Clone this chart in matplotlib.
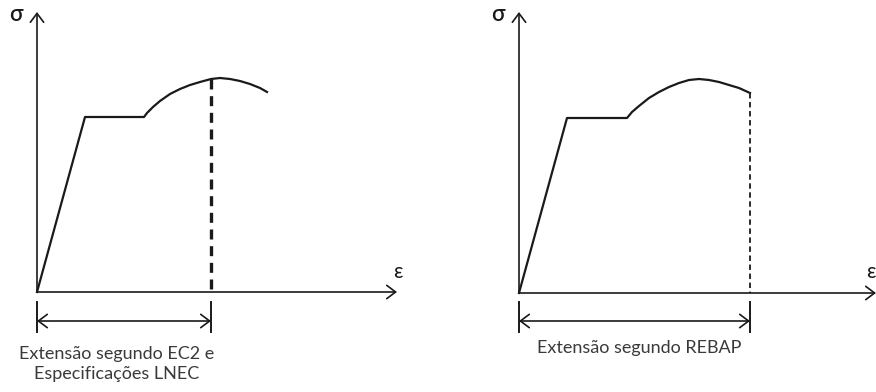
import matplotlib.pyplot as plt

plt.rcParams['font.family'] = ['Lato', 'DejaVu Sans']

# schematic curves in pixel units (x right, y down)
left_x = [37, 85, 144, 147, 153, 160, 170, 180, 190, 200, 211, 220, 230, 240, 250, 260, 267]
left_y = [292, 117, 117, 113, 107, 101, 94, 89, 85, 82, 79, 78, 79, 81, 84, 88, 92]
left_peak = 10  # index where the dashed rupture line starts

right_x = [519, 567, 627, 632, 639, 649, 659, 669, 679, 689, 699, 709, 719, 729, 739, 750]
right_y = [293, 118, 118, 112, 106, 98, 92, 87, 83, 80, 79, 80, 82, 85, 88, 93]
right_peak = len(right_x) - 1

left_label = 'Extensão segundo EC2 e\nEspecificações LNEC'
right_label = 'Extensão segundo REBAP'

fig = plt.figure(figsize=(8.76, 3.92), dpi=100)
ax = fig.add_axes([0, 0, 1, 1])
ax.set_xlim(0, 876)
ax.set_ylim(392, 0)
ax.axis('off')

ink = '#1a1a1a'
head = '->,head_length=0.4,head_width=0.3'


def panel(xs, ys, ipk, x_end, dash_lw, label, label_x, label_y):
    ox, oy = xs[0], ys[0]
    # axes with open arrow heads
    ax.annotate('', xy=(ox, 12), xytext=(ox, oy),
                arrowprops=dict(arrowstyle=head, lw=1.2, color=ink,
                                mutation_scale=16, shrinkA=0, shrinkB=0))
    ax.annotate('', xy=(x_end, oy), xytext=(ox, oy),
                arrowprops=dict(arrowstyle=head, lw=1.2, color=ink,
                                mutation_scale=16, shrinkA=0, shrinkB=0))
    ax.text(ox - 21, 14, 'σ', fontsize=16, color=ink, ha='center', va='center',
            fontweight='semibold')

    # stress-strain curve
    ax.plot(xs, ys, color=ink, lw=1.6, solid_joinstyle='round')
    # rupture line
    xr = xs[ipk]
    ax.plot([xr, xr], [ys[ipk], oy], color=ink, lw=dash_lw, ls=(0, (3, 2)))

    # dimension line
    ax.plot([ox, ox], [302, 332], color=ink, lw=1.4)
    ax.plot([xr, xr], [302, 332], color=ink, lw=1.4)
    ax.annotate('', xy=(ox, 321), xytext=(xr, 321),
                arrowprops=dict(arrowstyle='<->,head_length=0.4,head_width=0.3',
                                lw=1.2, color=ink, mutation_scale=16,
                                shrinkA=0, shrinkB=0))
    ax.text(label_x, label_y, label, fontsize=13, color='#3a3a3a',
            ha='center', va='top', linespacing=1.3)


panel(left_x, left_y, left_peak, 397, 2.4, left_label, 117, 346)
ax.text(398, 272, 'ε', fontsize=15, color=ink, ha='center', va='center')
panel(right_x, right_y, right_peak, 876, 1.3, right_label, 639, 340)
ax.text(876, 272, 'ε', fontsize=15, color=ink, ha='right', va='center')

fig.savefig('out.png', dpi=100, facecolor='white')
